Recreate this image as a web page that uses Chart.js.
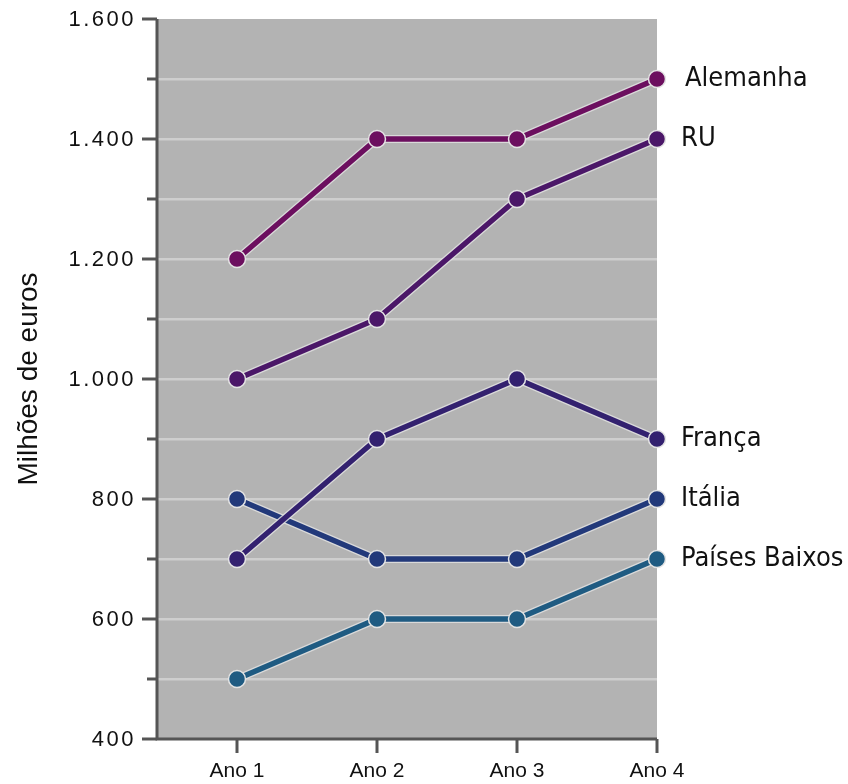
<!DOCTYPE html>
<html>
<head>
<meta charset="utf-8">
<script src="https://cdn.jsdelivr.net/npm/chart.js@4.4.1/dist/chart.umd.min.js"></script>
<style>
html,body{margin:0;padding:0;background:#fff;}
#wrap{width:848px;height:784px;}
</style>
</head>
<body>
<div id="wrap"><canvas id="c" width="848" height="784"></canvas></div>
<script>
const categories = ['Ano 1', 'Ano 2', 'Ano 3', 'Ano 4'];
const seriesNames = ['Alemanha', 'RU', 'França', 'Itália', 'Países Baixos'];
const alemanha = [1200, 1400, 1400, 1500];
const ru = [1000, 1100, 1300, 1400];
const franca = [700, 900, 1000, 900];
const italia = [800, 700, 700, 800];
const paisesBaixos = [500, 600, 600, 700];
const seriesColors = ['#6c0f5f', '#4b1768', '#33216f', '#22397a', '#1f5b82'];
const yMin = 400, yMax = 1600, yStep = 100, yLabelStep = 200;

const allSeries = [alemanha, ru, franca, italia, paisesBaixos];

const datasets = allSeries.map((vals, i) => ({
  label: seriesNames[i],
  data: vals.map((v, j) => ({x: j + 1, y: v})),
  borderColor: seriesColors[i],
  backgroundColor: seriesColors[i],
  pointBackgroundColor: seriesColors[i],
  pointBorderColor: '#e4e4e4',
  pointBorderWidth: 1.5,
  pointRadius: 8.5,
  borderWidth: 5.5,
  tension: 0,
  clip: false
}));

function fmt(v) {
  return String(v).replace(/\B(?=(\d{3})+(?!\d))/g, '.');
}

const bgPlugin = {
  id: 'bg',
  beforeDraw(chart) {
    const {ctx, chartArea: a} = chart;
    ctx.save();
    ctx.fillStyle = '#b3b3b3';
    ctx.fillRect(a.left, a.top, a.right - a.left, a.bottom - a.top);
    ctx.restore();
  }
};

const haloPlugin = {
  id: 'halo',
  beforeDatasetDraw(chart, args) {
    const meta = args.meta;
    const {ctx} = chart;
    ctx.save();
    ctx.strokeStyle = 'rgba(225,225,225,0.85)';
    ctx.lineWidth = 8;
    ctx.lineJoin = 'round';
    ctx.beginPath();
    meta.data.forEach((p, k) => { if (k === 0) ctx.moveTo(p.x, p.y); else ctx.lineTo(p.x, p.y); });
    ctx.stroke();
    ctx.restore();
  }
};

const axisPlugin = {
  id: 'axisTicks',
  afterDraw(chart) {
    const {ctx, chartArea: a} = chart;
    const ys = chart.scales.y;
    const xs = chart.scales.x;
    ctx.save();
    ctx.strokeStyle = '#555555';
    ctx.lineWidth = 3;
    for (let v = yMin; v <= yMax; v += yStep) {
      const y = ys.getPixelForValue(v);
      const len = (v % yLabelStep === 0) ? 15 : 10;
      ctx.beginPath();
      ctx.moveTo(a.left - len, y);
      ctx.lineTo(a.left, y);
      ctx.stroke();
    }
    categories.forEach((c, i) => {
      const x = xs.getPixelForValue(i + 1);
      ctx.beginPath();
      ctx.moveTo(x, a.bottom);
      ctx.lineTo(x, a.bottom + 14);
      ctx.stroke();
    });
    ctx.beginPath();
    ctx.moveTo(a.left, a.top);
    ctx.lineTo(a.left, a.bottom);
    ctx.lineTo(a.right, a.bottom);
    ctx.stroke();
    // y tick labels
    ctx.fillStyle = '#111111';
    ctx.font = '22px "Liberation Sans", Arial, sans-serif';
    ctx.textAlign = 'right';
    ctx.textBaseline = 'middle';
    try { ctx.letterSpacing = '2.5px'; } catch (e) {}
    for (let v = yMin; v <= yMax; v += yLabelStep) {
      ctx.fillText(fmt(v), a.left - 21, ys.getPixelForValue(v) + 1);
    }
    try { ctx.letterSpacing = '0px'; } catch (e) {}
    // x category labels
    ctx.font = '21px "Liberation Sans", Arial, sans-serif';
    ctx.textAlign = 'center';
    ctx.textBaseline = 'alphabetic';
    categories.forEach((c, i) => {
      ctx.fillText(c, xs.getPixelForValue(i + 1), a.bottom + 38);
    });
    ctx.restore();
  }
};

const labelPlugin = {
  id: 'endLabels',
  afterDatasetsDraw(chart) {
    const {ctx} = chart;
    ctx.save();
    ctx.font = '27px "DejaVu Sans Condensed", "DejaVu Sans", sans-serif';
    ctx.fillStyle = '#111111';
    ctx.textBaseline = 'middle';
    ctx.textAlign = 'left';
    chart.data.datasets.forEach((ds, i) => {
      const meta = chart.getDatasetMeta(i);
      const pt = meta.data[meta.data.length - 1];
      ctx.fillText(ds.label, pt.x + (i === 0 ? 28 : 24), pt.y);
    });
    ctx.restore();
  }
};

new Chart(document.getElementById('c'), {
  type: 'line',
  data: {datasets},
  options: {
    responsive: false,
    animation: false,
    devicePixelRatio: 1,
    layout: {autoPadding: false, padding: {left: 0, right: 191, top: 19, bottom: 0}},
    plugins: {legend: {display: false}, tooltip: {enabled: false}},
    scales: {
      x: {
        type: 'linear',
        min: 1 - 80 / 140,
        max: 4,
        afterBuildTicks(scale) {
          scale.ticks = categories.map((c, i) => ({value: i + 1}));
        },
        afterFit(scale) { scale.height = 45; },
        grid: {display: false},
        border: {display: false},
        ticks: {display: false}
      },
      y: {
        min: yMin,
        max: yMax,
        afterFit(scale) { scale.width = 157; },
        grid: {
          drawTicks: false,
          lineWidth: 2.5,
          color(ctx) {
            const v = ctx.tick && ctx.tick.value;
            return (v === yMin || v === yMax) ? 'rgba(0,0,0,0)' : '#cecece';
          }
        },
        border: {display: false},
        title: {
          display: true,
          text: 'Milhões de euros',
          color: '#111111',
          font: {family: '"Liberation Sans", Arial, sans-serif', size: 28},
          padding: {top: 12, bottom: 0}
        },
        ticks: {
          stepSize: yStep,
          display: false
        }
      }
    }
  },
  plugins: [bgPlugin, haloPlugin, axisPlugin, labelPlugin]
});
</script>
</body>
</html>
